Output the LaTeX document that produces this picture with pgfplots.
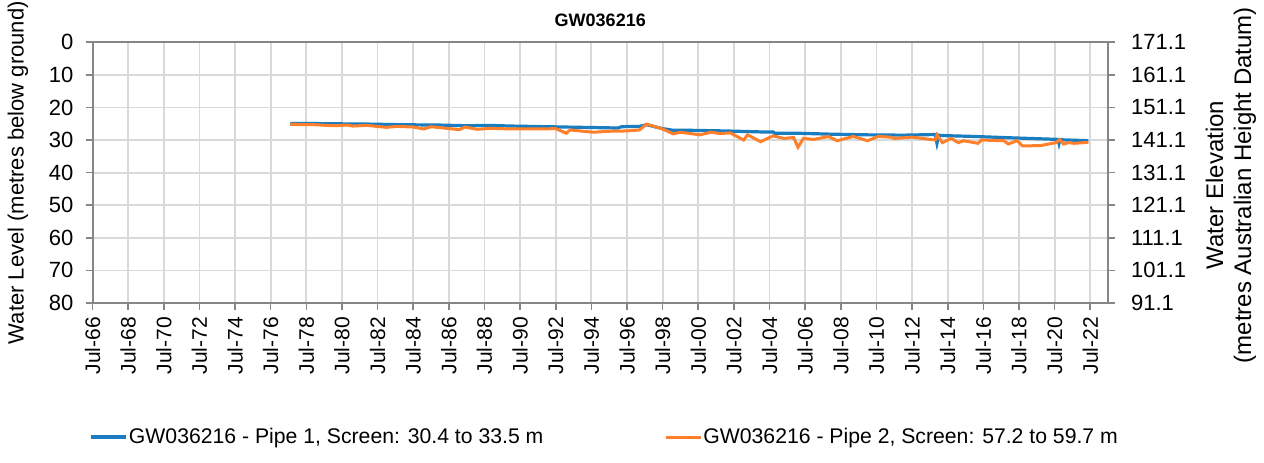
\documentclass[border=0pt]{standalone}
\usepackage{fontspec}
\setmainfont{Liberation Sans}
\usepackage{pgfplots}
\pgfplotsset{compat=1.18}
\definecolor{pipeA}{HTML}{1A7DC0}
\definecolor{pipeB}{HTML}{FF7F2A}
\definecolor{gridc}{HTML}{D9D9D9}
\definecolor{spine}{HTML}{868686}

\begin{document}
\begin{tikzpicture}
\pgfplotsset{
  common/.style={
    width=507.75pt, height=130.35pt, scale only axis,
    xmin=1966.5, xmax=2023.5,
    font=\fontsize{10.5}{12.6}\selectfont,
    tick label style={font=\fontsize{10.5}{12.6}\selectfont},
    yticklabel style={font=\fontsize{11}{13}\selectfont},
    /pgf/number format/assume math mode=true,
    axis line style={spine, line width=1pt},
    tick style={spine, line width=0.8pt},
    tick align=outside,
    major tick length=3.5pt,
    minor tick length=3.5pt,
  },
}
\begin{axis}[common, name=main,
  y dir=reverse, ymin=0, ymax=80, ytick={0,10,...,80},
  xtick={1966.5,1968.5,...,2022.5},
  xticklabels={Jul-66,Jul-68,Jul-70,Jul-72,Jul-74,Jul-76,Jul-78,Jul-80,Jul-82,Jul-84,Jul-86,Jul-88,Jul-90,Jul-92,Jul-94,Jul-96,Jul-98,Jul-00,Jul-02,Jul-04,Jul-06,Jul-08,Jul-10,Jul-12,Jul-14,Jul-16,Jul-18,Jul-20,Jul-22},
  minor x tick num=1,
  xmajorgrids, ymajorgrids, grid style={gridc, line width=0.9pt},
  xticklabel style={rotate=90, anchor=east},
  yticklabel style={xshift=-2.5pt},
  ytick pos=left, xtick pos=bottom,
  ylabel={Water Level (metres below ground)},
  ylabel style={at={(axis description cs:-0.0734,0.5)}, anchor=center,
    font=\fontsize{11}{13}\selectfont},
  title={\textbf{GW036216}},
  title style={font=\fontsize{9}{11}\selectfont, at={(axis description cs:0.5,1)}, anchor=base, yshift=2pt},
  legend style={at={(axis description cs:0.504,-0.514)}, anchor=center, draw=none,
    legend columns=2, font=\fontsize{10.6}{12.6}\selectfont,
    /tikz/every even column/.append style={column sep=60pt},
    nodes={inner sep=0.5pt}},
  legend image code/.code={\draw[#1] (0pt,0pt) -- (17.5pt,0pt);},
]
\addplot[pipeA, line width=1.6pt] coordinates {
  (1977.6,24.9) (1978.5,24.9) (1980.0,25.0) (1982.0,25.1) (1984.0,25.3)
  (1986.0,25.4) (1987.5,25.6) (1988.8,25.5) (1990.0,25.7) (1992.0,25.9)
  (1994.0,26.1) (1996.0,26.3) (1996.2,25.9) (1997.2,25.8) (1997.6,25.3)
  (1998.5,26.5) (1999.1,27.0) (2000.0,27.0) (2002.0,27.2) (2004.0,27.5)
  (2004.7,27.5) (2004.8,27.9) (2006.0,27.9) (2008.0,28.2) (2010.0,28.4)
  (2012.0,28.5) (2013.8,28.3) (2013.9,31.0) (2014.0,28.5) (2014.1,28.6)
  (2016.0,28.9) (2018.0,29.3) (2020.7,29.8) (2020.75,31.0) (2020.8,29.9)
  (2022.4,30.2)};
\addlegendentry{GW036216 - Pipe 1, Screen: 30.4 to 33.5 m}
\addplot[pipeB, line width=1.5pt] coordinates {
  (1977.6,25.2) (1979.0,25.3) (1980.0,25.6) (1980.8,25.4) (1981.1,25.7)
  (1981.9,25.5) (1983.0,26.1) (1983.6,25.8) (1984.5,26.0) (1985.1,26.6)
  (1985.5,25.9) (1986.2,26.3) (1987.1,26.8) (1987.4,26.0) (1988.1,26.7)
  (1988.8,26.4) (1990.0,26.6) (1991.5,26.6) (1992.5,26.5) (1993.1,27.9)
  (1993.3,26.9) (1994.6,27.6) (1995.5,27.3) (1996.5,27.2) (1997.2,26.9)
  (1997.6,25.1) (1998.5,26.6) (1999.1,28.1) (1999.5,27.6) (2000.6,28.4)
  (2001.2,27.6) (2001.75,28.0) (2002.3,27.8) (2003.05,30.0) (2003.27,28.4)
  (2004.0,30.5) (2004.7,28.7) (2005.3,29.5) (2005.85,29.2) (2006.1,32.2)
  (2006.4,29.5) (2007.0,29.8) (2007.8,28.9) (2008.3,30.2) (2009.2,28.9)
  (2010.0,30.2) (2010.6,28.9) (2011.3,29.1) (2011.5,29.5) (2012.5,29.1)
  (2013.8,30.0) (2013.9,28.4) (2014.2,30.8) (2014.7,29.5) (2015.1,30.8)
  (2015.4,30.2) (2016.2,31.0) (2016.4,30.0) (2017.65,30.2) (2017.9,31.2)
  (2018.4,30.2) (2018.7,31.8) (2019.7,31.7) (2020.56,30.8) (2020.8,29.9)
  (2021.0,31.2) (2021.3,30.8) (2021.6,31.0) (2022.4,30.7)};
\addlegendentry{GW036216 - Pipe 2, Screen: 57.2 to 59.7 m}
\end{axis}
\begin{axis}[common,
  axis x line=none, axis y line*=right,
  ymin=91.1, ymax=171.1,
  ytick={91.1,101.1,111.1,121.1,131.1,141.1,151.1,161.1,171.1},
  yticklabels={91.1,101.1,111.1,121.1,131.1,141.1,151.1,161.1,171.1},
  yticklabel style={xshift=4.5pt},
  ylabel={Water Elevation\\(metres Australian Height Datum)},
  ylabel style={at={(axis description cs:1.121,0.452)}, anchor=center, align=center,
    font=\fontsize{12}{14}\selectfont},
]
\end{axis}
\pgfresetboundingbox
\path ([shift={(-46.25pt,-80pt)}]main.south west) rectangle ([shift={(78pt,21.15pt)}]main.north east);
\end{tikzpicture}
\end{document}
